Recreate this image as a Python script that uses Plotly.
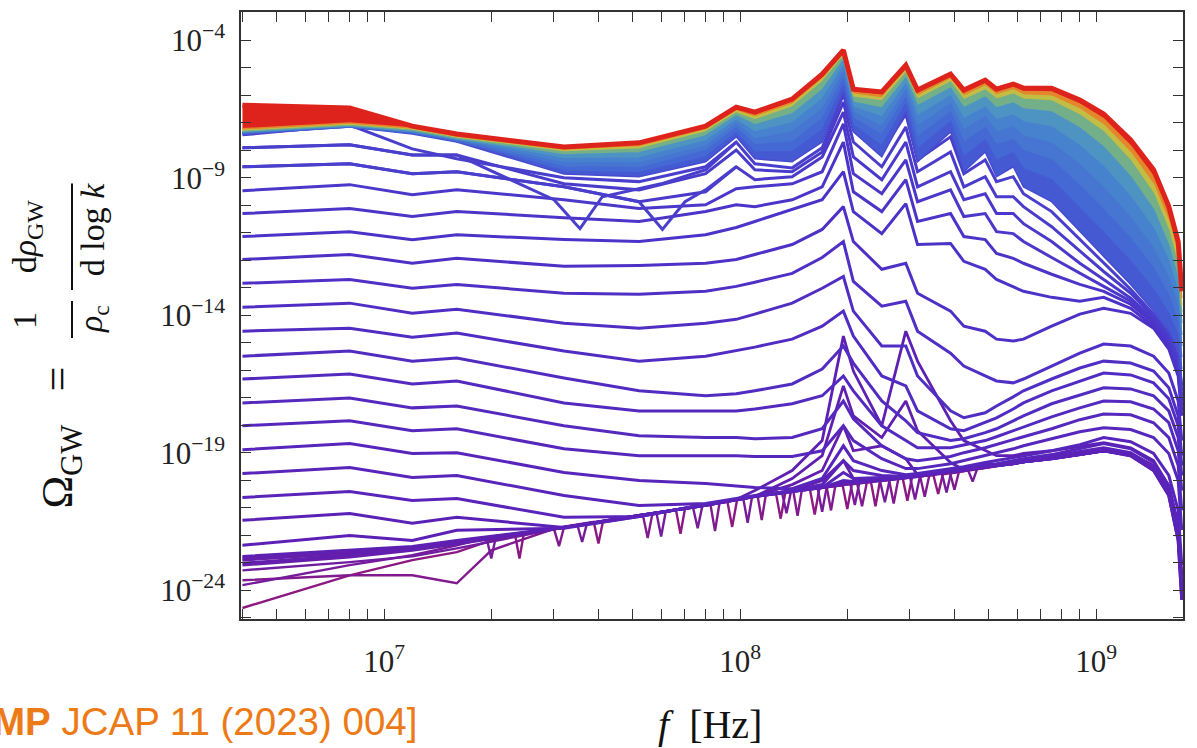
import plotly.graph_objects as go
from plotly.colors import sample_colorscale

# ---------------- data (log10 of Omega_GW) ----------------
freq = [4e6, 8e6, 1.2e7, 1.6e7, 3.2e7, 5.2e7, 8e7, 9.75e7, 1.1e8, 1.4e8, 1.7e8, 1.95e8, 2.08e8, 2.5e8, 2.92e8,
        3.15e8, 3.9e8, 4.25e8, 4.88e8, 5.25e8, 5.85e8, 6.25e8, 7.5e8, 9e8, 1.05e9, 1.25e9, 1.45e9, 1.6e9, 1.7e9, 1.74e9]

# earliest spectra (noise floor with lattice spikes)
noise_a_freq = [4e6, 8e6, 1.2e7, 1.6e7, 2e7, 2.33e7, 2.4e7, 2.47e7, 3.88e7, 4e7, 4.12e7, 6.6e7, 6.8e7, 7.0e7,
                9.2e7, 9.5e7, 9.8e7, 1.26e8, 1.3e8, 1.34e8, 1.57e8, 1.62e8, 1.67e8, 1.94e8, 2e8, 2.06e8,
                2.33e8, 2.4e8, 2.47e8, 2.86e8, 2.95e8, 3.04e8, 3.49e8, 3.6e8, 3.71e8, 4.5e8, 6e8, 7.5e8, 9e8,
                1.05e9, 1.25e9, 1.45e9, 1.6e9, 1.7e9, 1.74e9]
noise_a = [-24.65, -23.46, -22.91, -22.62, -22.19, -21.95, -22.85, -21.92, -21.52, -22.30, -21.49, -21.07, -21.95,
           -21.04, -20.75, -21.70, -20.73, -20.46, -21.40, -20.44, -20.32, -21.25, -20.30, -20.17, -21.05, -20.15,
           -20.06, -20.95, -20.04, -19.91, -20.75, -19.89, -19.81, -20.50, -19.79, -19.62, -19.36, -19.18, -19.03,
           -18.93, -19.03, -19.47, -20.27, -21.64, -23.46]
noise_b_freq = [4e6, 8e6, 1.2e7, 1.6e7, 2e7, 3.0e7, 3.1e7, 3.2e7, 5.33e7, 5.5e7, 5.67e7, 8.25e7, 8.5e7, 8.75e7,
                1.12e8, 1.15e8, 1.18e8, 1.41e8, 1.45e8, 1.49e8, 1.75e8, 1.8e8, 1.85e8, 2.13e8, 2.2e8, 2.27e8,
                2.62e8, 2.7e8, 2.78e8, 3.2e8, 3.3e8, 3.4e8, 3.88e8, 4e8, 4.12e8, 4.5e8, 6e8, 7.5e8, 9e8,
                1.05e9, 1.25e9, 1.45e9, 1.6e9, 1.7e9, 1.74e9]
noise_b = [-23.64, -23.46, -23.46, -23.75, -22.55, -21.77, -22.40, -21.72, -21.26, -22.10, -21.22, -20.87, -21.85,
           -20.84, -20.58, -21.45, -20.55, -20.39, -21.30, -20.37, -20.24, -21.10, -20.22, -20.10, -20.95, -20.08,
           -19.99, -20.85, -19.97, -19.84, -20.60, -19.82, -19.70, -20.35, -19.68, -19.62, -19.36, -19.18, -19.03,
           -18.93, -19.03, -19.47, -20.27, -21.64, -23.46]
noise_c_freq = [4e6, 8e6, 1.2e7, 1.6e7, 1.94e7, 2.0e7, 2.06e7, 3.49e7, 3.6e7, 3.71e7, 5.82e7, 6e7, 6.18e7,
                7.37e7, 7.6e7, 7.83e7, 1.02e8, 1.05e8, 1.08e8, 1.31e8, 1.35e8, 1.39e8, 1.65e8, 1.7e8, 1.75e8,
                2.04e8, 2.1e8, 2.16e8, 2.47e8, 2.55e8, 2.63e8, 3.0e8, 3.1e8, 3.2e8, 3.69e8, 3.8e8, 3.91e8,
                4.37e8, 4.5e8, 4.63e8, 6e8, 7.5e8, 9e8, 1.05e9, 1.25e9, 1.45e9, 1.6e9, 1.7e9, 1.74e9]
noise_c = [-23.82, -23.09, -22.73, -22.37, -22.10, -22.85, -22.06, -21.63, -22.25, -21.59, -21.19, -22.05, -21.15,
           -20.98, -21.75, -20.94, -20.65, -21.55, -20.61, -20.43, -21.20, -20.40, -20.28, -21.15, -20.26,
           -20.13, -20.90, -20.11, -20.02, -20.80, -20.00, -19.88, -20.70, -19.86, -19.77, -20.45, -19.75,
           -19.64, -20.05, -19.60, -19.36, -19.18, -19.03, -18.93, -19.03, -19.47, -20.27, -21.64, -23.46]
noise_d_freq = [4e6, 8e6, 1.2e7, 1.6e7, 3.2e7]
noise_d = [-23.28, -22.98, -22.77, -22.48, -21.72]

floor = [-22.91,-22.66,-22.48,-22.26,-21.72,-21.28,-20.92,-20.70,-20.59,-20.38,-20.27,-20.16,-20.12,-20.01,-19.90,-19.87,-19.69,-19.62,-19.51,-19.47,-19.40,-19.33,-19.22,-19.07,-18.93,-19.07,-19.58,-20.49,-22.01,-24.00]
spike_1 = [-23.09,-22.80,-22.55,-22.33,-21.72,-21.28,-20.92,-20.70,-20.59,-20.38,-20.01,-19.29,-19.94,-20.01,-19.90,-19.87,-19.69,-19.62,-19.51,-19.47,-19.40,-19.33,-19.22,-19.07,-18.93,-19.07,-19.58,-20.49,-22.01,-24.00]
spike_2 = [-22.84,-22.62,-22.44,-22.22,-21.72,-21.28,-20.92,-20.70,-20.59,-20.16,-19.65,-18.02,-18.93,-18.75,-19.22,-19.80,-19.69,-19.62,-19.51,-19.47,-19.40,-19.33,-19.22,-19.07,-18.93,-19.07,-19.58,-20.49,-22.01,-24.00]
spike_3 = [-23.02,-22.73,-22.51,-22.30,-21.72,-21.28,-20.92,-20.70,-20.59,-19.94,-19.11,-16.57,-17.66,-18.45,-17.12,-18.20,-19.36,-19.62,-19.51,-19.47,-19.40,-19.33,-19.22,-19.07,-18.93,-19.07,-19.58,-20.49,-22.01,-24.00]
spike_4 = [-22.77,-22.55,-22.41,-22.19,-21.72,-21.28,-20.92,-20.70,-20.38,-19.65,-18.56,-14.76,-16.03,-18.02,-14.58,-15.67,-17.84,-18.56,-18.93,-19.11,-19.11,-19.03,-18.93,-18.78,-18.64,-18.82,-19.29,-20.20,-21.64,-23.82]

# intermediate-time spectra (from lowest to highest plateau)
p19 = [-22.37,-22.01,-22.19,-21.82,-21.75,-21.32,-20.88,-20.70,-20.59,-20.41,-20.27,-20.09,-20.09,-19.98,-19.90,-19.83,-19.69,-19.62,-19.51,-19.47,-19.40,-19.33,-19.22,-19.07,-18.93,-19.11,-19.65,-20.56,-22.19,-24.36]
p18 = [-21.46,-21.21,-21.57,-21.35,-21.72,-21.32,-20.88,-20.70,-20.59,-20.41,-20.27,-20.01,-20.05,-19.94,-19.90,-19.83,-19.69,-19.62,-19.51,-19.47,-19.40,-19.33,-19.22,-19.07,-18.93,-19.11,-19.65,-20.56,-22.19,-24.36]
p17 = [-20.63,-20.41,-20.74,-20.67,-21.35,-21.32,-20.88,-20.70,-20.59,-20.41,-20.27,-19.72,-19.94,-19.90,-19.87,-19.80,-19.65,-19.58,-19.47,-19.43,-19.36,-19.29,-19.14,-18.96,-18.82,-19.00,-19.51,-20.38,-21.90,-24.07]
p16 = [-19.76,-19.54,-19.90,-19.83,-20.56,-20.92,-20.85,-20.67,-20.56,-20.38,-20.16,-19.29,-19.65,-19.83,-19.87,-19.80,-19.62,-19.54,-19.43,-19.40,-19.29,-19.22,-19.07,-18.86,-18.67,-18.86,-19.36,-20.20,-21.64,-23.82]
p15 = [-18.89,-18.67,-19.03,-19.00,-19.72,-20.01,-20.12,-20.20,-20.27,-20.31,-19.94,-18.75,-19.29,-19.65,-19.80,-19.76,-19.58,-19.51,-19.36,-19.29,-19.18,-19.11,-18.93,-18.71,-18.45,-18.60,-19.03,-19.83,-21.10,-23.09]
p14 = [-18.02,-17.84,-18.20,-18.13,-18.86,-19.11,-19.11,-19.11,-19.14,-19.14,-18.93,-18.02,-18.56,-19.22,-19.58,-19.58,-19.40,-19.29,-19.11,-19.00,-18.86,-18.75,-18.49,-18.24,-18.09,-18.16,-18.45,-19.03,-20.01,-21.82]
p13 = [-17.19,-17.01,-17.37,-17.30,-18.02,-18.38,-18.45,-18.45,-18.49,-18.45,-18.13,-17.12,-17.77,-18.75,-19.22,-19.29,-19.14,-19.00,-18.82,-18.71,-18.53,-18.42,-18.13,-17.80,-17.59,-17.62,-17.91,-18.45,-19.47,-21.10]
p12 = [-16.32,-16.14,-16.50,-16.39,-17.19,-17.48,-17.48,-17.48,-17.41,-17.22,-16.93,-16.21,-16.75,-18.02,-18.56,-18.82,-18.82,-18.71,-18.56,-18.42,-18.20,-18.06,-17.70,-17.37,-17.12,-17.15,-17.41,-17.91,-18.93,-20.38]
p11 = [-15.49,-15.30,-15.67,-15.56,-16.28,-16.75,-16.93,-16.86,-16.75,-16.50,-15.96,-15.12,-15.74,-17.12,-17.84,-18.27,-18.56,-18.49,-18.27,-18.13,-17.84,-17.66,-17.22,-16.90,-16.64,-16.68,-16.93,-17.48,-18.45,-19.83]
p10 = [-14.58,-14.47,-14.80,-14.65,-15.30,-15.67,-15.49,-15.30,-15.16,-14.87,-14.40,-13.85,-14.76,-16.21,-16.57,-17.48,-18.13,-18.20,-17.91,-17.73,-17.41,-17.19,-16.75,-16.39,-16.10,-16.17,-16.46,-17.04,-18.02,-19.47]
p9 = [-13.71,-13.56,-13.93,-13.78,-14.29,-14.47,-14.29,-14.15,-13.96,-13.56,-13.02,-12.59,-13.85,-15.12,-15.12,-16.21,-17.48,-17.73,-17.55,-17.30,-16.97,-16.75,-16.32,-15.92,-15.67,-15.74,-16.03,-16.64,-17.66,-19.11]
p8 = [-12.84,-12.70,-13.02,-12.88,-13.20,-13.24,-13.13,-12.95,-12.80,-12.48,-11.90,-11.32,-12.77,-13.67,-13.49,-14.58,-15.38,-15.85,-16.21,-16.39,-16.46,-16.32,-15.85,-15.38,-15.05,-15.12,-15.49,-16.10,-17.12,-18.56]
p7 = [-11.97,-11.79,-12.11,-11.93,-12.22,-12.19,-12.11,-11.97,-11.79,-11.43,-10.88,-10.05,-11.32,-12.33,-12.11,-13.20,-13.85,-14.40,-14.58,-14.87,-14.94,-14.87,-14.40,-13.96,-13.75,-13.93,-14.47,-15.23,-16.21,-17.66]
p6 = [-11.14,-10.96,-11.25,-11.07,-11.25,-11.32,-11.07,-10.81,-10.59,-10.16,-9.80,-8.78,-10.23,-11.03,-9.94,-11.43,-11.39,-12.04,-12.33,-12.70,-12.95,-13.13,-13.35,-13.49,-13.35,-13.75,-14.40,-15.16,-16.10,-17.48]
p5 = [-10.30,-10.12,-10.41,-10.23,-10.45,-10.59,-10.23,-9.98,-10.05,-9.80,-9.33,-7.70,-9.51,-10.23,-9.07,-10.59,-10.30,-11.14,-11.25,-11.75,-11.93,-12.11,-12.51,-12.88,-13.13,-13.60,-14.29,-15.05,-15.96,-17.30]
p4 = [-9.47,-9.25,-9.62,-9.44,-9.80,-10.12,-9.98,-9.40,-9.33,-9.22,-8.78,-7.04,-8.85,-9.58,-8.35,-9.87,-9.44,-10.41,-10.30,-10.96,-11.03,-11.32,-11.90,-12.48,-12.95,-13.49,-14.22,-14.94,-15.85,-17.12]
p3 = [-8.60,-8.49,-8.85,-8.78,-9.33,-9.87,-9.51,-8.60,-9.07,-8.96,-8.24,-6.61,-8.24,-9.07,-7.70,-9.33,-8.78,-9.80,-9.58,-10.30,-10.30,-10.67,-11.32,-12.11,-12.70,-13.38,-14.15,-14.87,-15.74,-16.93]
p2 = [-7.91,-7.80,-8.17,-8.17,-9.22,-9.44,-8.85,-7.99,-8.71,-8.78,-8.06,-6.25,-7.70,-8.60,-7.15,-8.78,-8.06,-9.33,-8.96,-9.69,-9.69,-10.05,-10.78,-11.68,-12.41,-13.20,-14.04,-14.76,-15.60,-16.75]
p1 = [-7.44,-7.08,-7.95,-8.31,-9.00,-9.14,-8.60,-7.70,-8.49,-8.64,-7.91,-5.96,-7.26,-8.06,-6.68,-8.35,-7.51,-8.85,-8.35,-9.14,-8.96,-9.58,-10.23,-11.25,-12.11,-13.06,-13.96,-14.69,-15.49,-16.57]

# spectra with a sign-change dip
dip_a_freq = [4e6, 8e6, 1.2e7, 1.6e7, 3.0e7, 3.55e7, 4.1e7, 6e7, 8e7, 9.75e7]
dip_a = [-7.91,-7.80,-8.17,-8.17,-9.80,-10.85,-9.69,-9.22,-8.71,-7.70]
dip_b_freq = [4e6, 8e6, 1.2e7, 1.6e7, 3.2e7, 5.2e7, 6.05e7, 7e7, 8e7, 9.75e7]
dip_b = [-8.60,-8.49,-8.85,-8.78,-9.33,-9.87,-10.88,-9.87,-9.44,-8.60]

# late-time spectra (band, bottom to top) and final spectrum
blue_6 = [-7.41,-7.15,-7.41,-7.70,-8.86,-8.96,-8.42,-7.51,-8.31,-8.42,-7.70,-5.88,-7.33,-8.24,-6.61,-8.42,-7.33,-8.78,-8.06,-8.96,-8.60,-9.33,-9.87,-10.96,-11.86,-12.88,-13.85,-14.58,-15.30,-16.39]
blue_5 = [-7.41,-7.15,-7.37,-7.66,-8.75,-8.82,-8.24,-7.37,-8.06,-8.06,-7.26,-5.63,-7.08,-7.84,-6.32,-7.95,-6.97,-8.24,-7.62,-8.38,-8.09,-8.67,-9.07,-10.12,-10.99,-12.04,-13.06,-13.93,-14.76,-15.96]
blue_4 = [-7.37,-7.15,-7.37,-7.66,-8.60,-8.64,-8.02,-7.19,-7.80,-7.70,-6.86,-5.38,-6.83,-7.44,-6.07,-7.51,-6.61,-7.70,-7.19,-7.80,-7.62,-8.02,-8.35,-9.29,-10.16,-11.21,-12.30,-13.28,-14.22,-15.52]
blue_3 = [-7.37,-7.12,-7.33,-7.62,-8.46,-8.46,-7.84,-7.04,-7.59,-7.33,-6.50,-5.16,-6.61,-7.12,-5.81,-7.12,-6.32,-7.26,-6.79,-7.33,-7.15,-7.48,-7.73,-8.53,-9.36,-10.45,-11.57,-12.66,-13.71,-15.12]
blue_2 = [-7.33,-7.12,-7.33,-7.59,-8.31,-8.28,-7.66,-6.90,-7.33,-7.01,-6.14,-4.94,-6.43,-6.79,-5.59,-6.75,-6.03,-6.86,-6.43,-6.90,-6.72,-6.97,-7.15,-7.84,-8.60,-9.69,-10.85,-12.04,-13.20,-14.72]
blue_1 = [-7.33,-7.12,-7.30,-7.59,-8.17,-8.09,-7.48,-6.75,-7.08,-6.68,-5.81,-4.72,-6.25,-6.46,-5.38,-6.39,-5.74,-6.46,-6.07,-6.46,-6.28,-6.50,-6.61,-7.19,-7.88,-8.96,-10.16,-11.46,-12.70,-14.29]
green = [-7.30,-7.08,-7.26,-7.55,-8.06,-7.95,-7.33,-6.65,-6.90,-6.43,-5.52,-4.58,-6.07,-6.21,-5.20,-6.14,-5.52,-6.17,-5.81,-6.14,-5.96,-6.14,-6.21,-6.72,-7.33,-8.38,-9.58,-10.92,-12.22,-13.89]
yellow = [-7.26,-7.04,-7.22,-7.51,-7.99,-7.88,-7.26,-6.57,-6.79,-6.32,-5.41,-4.51,-5.96,-6.10,-5.09,-6.03,-5.41,-6.03,-5.67,-5.99,-5.81,-5.99,-6.03,-6.50,-7.08,-8.09,-9.25,-10.59,-11.90,-13.64]
orange = [-7.22,-7.01,-7.19,-7.48,-7.95,-7.80,-7.19,-6.50,-6.72,-6.25,-5.34,-4.44,-5.88,-5.99,-5.01,-5.92,-5.34,-5.92,-5.56,-5.88,-5.70,-5.85,-5.88,-6.32,-6.86,-7.84,-8.96,-10.30,-11.61,-13.38]
final = [-6.36,-6.46,-7.12,-7.41,-7.88,-7.73,-7.12,-6.43,-6.61,-6.14,-5.23,-4.36,-5.78,-5.88,-4.91,-5.81,-5.23,-5.81,-5.45,-5.78,-5.59,-5.74,-5.74,-6.17,-6.68,-7.62,-8.71,-10.05,-11.32,-13.13]

# ticks
x_tick_vals = [4e6, 5e6, 6e6, 7e6, 8e6, 9e6, 1e7, 2e7, 3e7, 4e7, 5e7, 6e7, 7e7, 8e7, 9e7,
               1e8, 2e8, 3e8, 4e8, 5e8, 6e8, 7e8, 8e8, 9e8, 1e9]
x_tick_text = ["", "", "", "", "", "", "10<sup>7</sup>", "", "", "", "", "", "", "", "",
               "10<sup>8</sup>", "", "", "", "", "", "", "", "", "10<sup>9</sup>"]
y_tick_exp = [-25, -24, -23, -22, -21, -20, -19, -18, -17, -16, -15, -14, -13, -12, -11, -10, -9, -8, -7, -6, -5, -4, -3]
y_tick_text = ["", "10<sup>\u221224</sup>", "", "", "", "", "10<sup>\u221219</sup>", "", "", "", "",
               "10<sup>\u221214</sup>", "", "", "", "", "10<sup>\u22129</sup>", "", "", "", "",
               "10<sup>\u22124</sup>", ""]

# ---------------- style ----------------
cscale = [[0.00, "rgb(140,25,130)"], [0.10, "rgb(112,28,160)"], [0.18, "rgb(92,32,182)"],
          [0.30, "rgb(76,50,200)"], [0.38, "rgb(70,75,208)"], [0.50, "rgb(68,105,212)"],
          [0.62, "rgb(72,135,205)"], [0.70, "rgb(85,160,185)"], [0.78, "rgb(125,180,120)"],
          [0.86, "rgb(205,190,60)"], [0.93, "rgb(232,125,40)"], [1.00, "rgb(222,35,28)"]]


def col(t):
    return sample_colorscale(cscale, [t])[0]


fig = go.Figure()


def add(xs, vals, t, width, fill=False):
    c = col(t)
    fig.add_trace(go.Scatter(
        x=xs, y=[10 ** v for v in vals], mode="lines",
        line=dict(color=c, width=width),
        fill="tonexty" if fill else "none",
        fillcolor=c if fill else None,
        hoverinfo="skip", showlegend=False))


add(noise_a_freq, noise_a, 0.0, 2.4)
add(noise_b_freq, noise_b, 0.04, 2.4)
add(noise_c_freq, noise_c, 0.08, 2.4)
add(noise_d_freq, noise_d, 0.10, 2.4)

for vals, t in [(floor, 0.13), (spike_1, 0.14), (spike_2, 0.15), (spike_3, 0.16), (spike_4, 0.17)]:
    add(freq, vals, t, 2.8)

plateaus = [p19, p18, p17, p16, p15, p14, p13, p12, p11, p10, p9, p8, p7, p6, p5, p4, p3, p2, p1]
for i, vals in enumerate(plateaus):
    add(freq, vals, 0.18 + 0.009 * i, 3)

add(dip_b_freq, dip_b, 0.34, 3)
add(dip_a_freq, dip_a, 0.34, 3)

band = [(blue_6, 0.38, False), (blue_5, 0.44, True), (blue_4, 0.50, True), (blue_3, 0.55, True),
        (blue_2, 0.60, True), (blue_1, 0.66, True), (green, 0.76, True), (yellow, 0.85, True),
        (orange, 0.92, True)]
for vals, t, f in band:
    add(freq, vals, t, 1.5, f)
add(freq, final, 1.0, 5, True)

# ---------------- layout ----------------
L, R, T, B = 241, 14, 10, 129
W, H = 1197, 748
pw, ph = W - L - R, H - T - B


def px(x):
    return (x - L) / pw


def py(y):
    return (H - B - y) / ph


axis_common = dict(showline=True, linecolor="#333", linewidth=1.5, mirror="allticks",
                   ticks="inside", ticklen=10, tickwidth=1.3, tickcolor="#333",
                   showgrid=False, zeroline=False,
                   tickfont=dict(family="Liberation Serif", size=31, color="#222"))

fig.update_layout(
    width=W, height=H, margin=dict(l=L, r=R, t=T, b=B),
    paper_bgcolor="white", plot_bgcolor="white", showlegend=False, hovermode=False,
    xaxis=dict(type="log", range=[6.598, 9.244], tickvals=x_tick_vals, ticktext=x_tick_text,
               ticklabelstandoff=14, **axis_common),
    yaxis=dict(type="log", range=[-25.05, -2.97], tickvals=[10 ** e for e in y_tick_exp],
               ticktext=y_tick_text, ticklabelstandoff=8, **axis_common),
)

serif = "Liberation Serif"
nb = "\u00a0"
ann = [
    dict(text="<i>f</i>" + nb + nb + "[Hz]", x=px(710), y=py(725), size=40, angle=0),
    dict(text="\u03a9<sub>GW</sub>" + nb + nb + nb + "=", x=px(61), y=py(437), size=44, angle=-90),
    dict(text="1", x=px(25), y=py(320), size=34, angle=-90),
    dict(text="<i>\u03c1</i><sub>c</sub>", x=px(93), y=py(318), size=34, angle=-90),
    dict(text="d<i>\u03c1</i><sub>GW</sub>", x=px(27), y=py(235), size=34, angle=-90),
    dict(text="d" + nb + "log" + nb + "<i>k</i>", x=px(92), y=py(229), size=34, angle=-90),
]
for a in ann:
    fig.add_annotation(text=a["text"], x=a["x"], y=a["y"], xref="paper", yref="paper",
                       showarrow=False, textangle=a["angle"], xanchor="center", yanchor="middle",
                       font=dict(family=serif, size=a["size"], color="#111"))

fig.add_shape(type="line", xref="paper", yref="paper", x0=px(72), x1=px(72), y0=py(300), y1=py(337),
              line=dict(color="#111", width=2))
fig.add_shape(type="line", xref="paper", yref="paper", x0=px(72), x1=px(72), y0=py(182), y1=py(289),
              line=dict(color="#111", width=2))

fig.add_annotation(text="<b>MP</b> JCAP 11 (2023) 004]", x=px(419), y=py(722), xref="paper", yref="paper",
                   showarrow=False, xanchor="right", yanchor="middle",
                   font=dict(family="Liberation Sans", size=38.5, color="#EC7A16"))

fig.write_html("out.html")
